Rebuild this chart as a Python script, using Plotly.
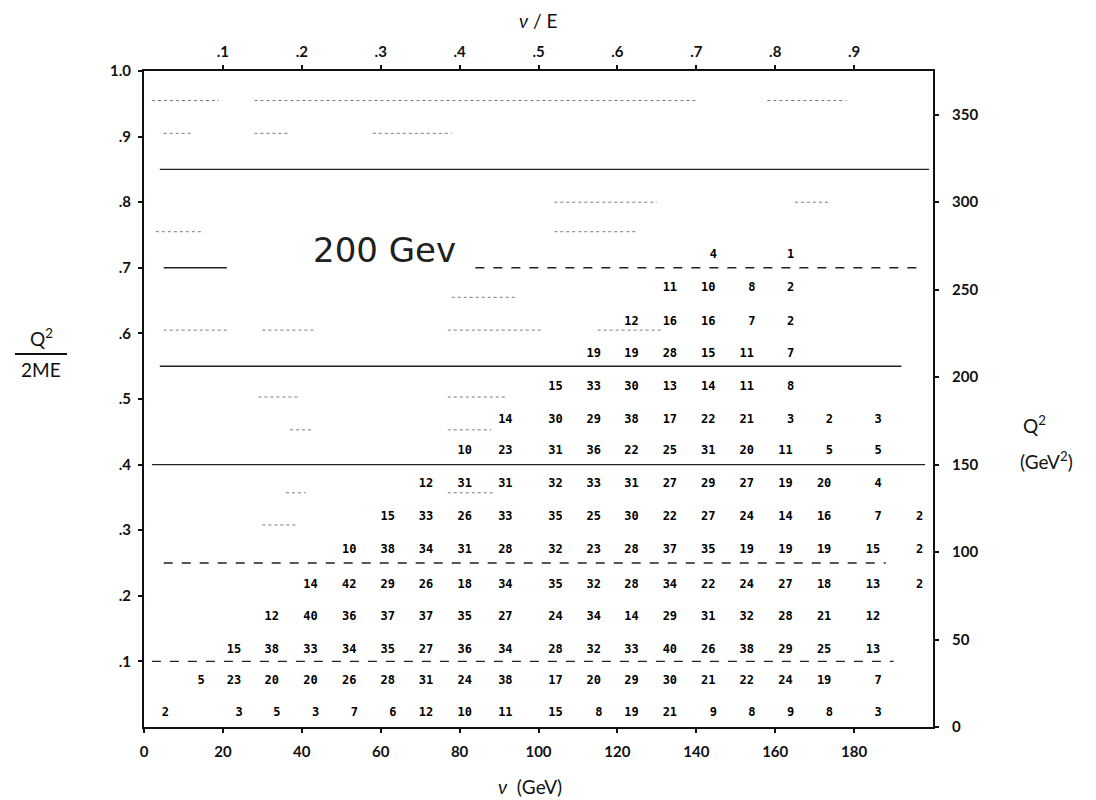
import plotly.graph_objects as go

# ---------------- data ----------------
E_BEAM = 200.0          # GeV, beam energy (top axis nu/E)
TWO_ME = 375.0          # GeV^2, 2ME (right axis Q^2)

# nu (GeV) of each typed count column
nu_cols = [4.1, 13.2, 22.8, 32.4, 42.2, 52.0, 61.8, 71.5, 81.3, 91.6,
           104.3, 114.0, 123.6, 133.3, 143.0, 152.8, 162.6, 172.4, 184.8, 195.3]

# Q^2/2ME of each typed count row (bottom to top)
y_rows = [0.022, 0.070, 0.118, 0.167, 0.217, 0.270, 0.320, 0.370,
          0.420, 0.468, 0.518, 0.569, 0.618, 0.669, 0.720]

N = None
counts = [
    [2, N, 3, 5, 3, 7, 6, 12, 10, 11, 15, 8, 19, 21, 9, 8, 9, 8, 3, N],
    [N, 5, 23, 20, 20, 26, 28, 31, 24, 38, 17, 20, 29, 30, 21, 22, 24, 19, 7, N],
    [N, N, 15, 38, 33, 34, 35, 27, 36, 34, 28, 32, 33, 40, 26, 38, 29, 25, 13, N],
    [N, N, N, 12, 40, 36, 37, 37, 35, 27, 24, 34, 14, 29, 31, 32, 28, 21, 12, N],
    [N, N, N, N, 14, 42, 29, 26, 18, 34, 35, 32, 28, 34, 22, 24, 27, 18, 13, 2],
    [N, N, N, N, N, 10, 38, 34, 31, 28, 32, 23, 28, 37, 35, 19, 19, 19, 15, 2],
    [N, N, N, N, N, N, 15, 33, 26, 33, 35, 25, 30, 22, 27, 24, 14, 16, 7, 2],
    [N, N, N, N, N, N, N, 12, 31, 31, 32, 33, 31, 27, 29, 27, 19, 20, 4, N],
    [N, N, N, N, N, N, N, N, 10, 23, 31, 36, 22, 25, 31, 20, 11, 5, 5, N],
    [N, N, N, N, N, N, N, N, N, 14, 30, 29, 38, 17, 22, 21, 3, 2, 3, N],
    [N, N, N, N, N, N, N, N, N, N, 15, 33, 30, 13, 14, 11, 8, N, N, N],
    [N, N, N, N, N, N, N, N, N, N, N, 19, 19, 28, 15, 11, 7, N, N, N],
    [N, N, N, N, N, N, N, N, N, N, N, N, 12, 16, 16, 7, 2, N, N, N],
    [N, N, N, N, N, N, N, N, N, N, N, N, N, 11, 10, 8, 2, N, N, N],
    [N, N, N, N, N, N, N, N, N, N, N, N, N, N, 4, N, 1, N, N, N],
]

# ruled lines of constant Q^2/2ME: level, nu start, nu end, dash
rule_levels = [0.10, 0.25, 0.40, 0.55, 0.70, 0.70, 0.85]
rule_starts = [2, 5, 2, 4, 5, 84, 4]
rule_ends = [190, 188, 198, 192, 21, 198, 199]
rule_dash = ["dash", "dash", "solid", "solid", "solid", "dash", "solid"]

# faint remnants of intermediate rulings: level, nu start, nu end
faint_levels = [0.955, 0.955, 0.955, 0.905, 0.905, 0.905, 0.80, 0.80, 0.755, 0.755,
                0.655, 0.605, 0.605, 0.605, 0.605, 0.503, 0.503, 0.453, 0.453,
                0.357, 0.357, 0.308]
faint_starts = [2, 28, 158, 5, 28, 58, 104, 165, 3, 104,
                78, 5, 30, 77, 115, 29, 77, 37, 77,
                36, 77, 30]
faint_ends = [19, 140, 178, 12, 37, 78, 130, 174, 15, 125,
              94, 21, 43, 101, 131, 39, 92, 43, 88,
              41, 89, 39]

x_ticks = [0, 20, 40, 60, 80, 100, 120, 140, 160, 180]
top_ticks = [0.1, 0.2, 0.3, 0.4, 0.5, 0.6, 0.7, 0.8, 0.9]
top_labels = [".1", ".2", ".3", ".4", ".5", ".6", ".7", ".8", ".9"]
left_ticks = [0.1, 0.2, 0.3, 0.4, 0.5, 0.6, 0.7, 0.8, 0.9, 1.0]
left_labels = [".1", ".2", ".3", ".4", ".5", ".6", ".7", ".8", ".9", "1.0"]
right_ticks = [0, 50, 100, 150, 200, 250, 300, 350]

# ---------------- figure ----------------
W, H = 1096, 800
L, R, T, B = 144, 933, 71, 727   # plot area in pixels


def px(xp):
    return (xp - L) / (R - L)


def py(yp):
    return (B - yp) / (B - T)


INK = "#111111"
fig = go.Figure()

for lev, a, b, d in zip(rule_levels, rule_starts, rule_ends, rule_dash):
    fig.add_trace(go.Scatter(x=[a, b], y=[lev, lev], mode="lines",
                             line=dict(color="#222222", width=1.4, dash=d),
                             hoverinfo="skip", showlegend=False))
for lev, a, b in zip(faint_levels, faint_starts, faint_ends):
    fig.add_trace(go.Scatter(x=[a, b], y=[lev, lev], mode="lines",
                             line=dict(color="#7a7a7a", width=1, dash="dot"),
                             hoverinfo="skip", showlegend=False))

xs, ys, ts = [], [], []
for yr, row in zip(y_rows, counts):
    for xc, v in zip(nu_cols, row):
        if v is None:
            continue
        xs.append(xc + (1.3 if v < 10 else 0.0))
        ys.append(yr)
        ts.append("<b>%d</b>" % v)
fig.add_trace(go.Scatter(x=xs, y=ys, text=ts, mode="text", cliponaxis=False,
                         textfont=dict(family="DejaVu Sans Mono", size=12, color="#000000"),
                         hoverinfo="skip", showlegend=False))

# invisible traces binding the secondary axes
fig.add_trace(go.Scatter(x=[0, 1], y=[None, None], xaxis="x2", yaxis="y",
                         mode="lines", showlegend=False, hoverinfo="skip"))
fig.add_trace(go.Scatter(x=[None, None], y=[0, TWO_ME], xaxis="x", yaxis="y2",
                         mode="lines", showlegend=False, hoverinfo="skip"))

tick_font = dict(family="Lato", size=15, color=INK, weight="bold")
axis_common = dict(showgrid=False, zeroline=False, showline=True, linecolor=INK,
                   linewidth=2, ticks="outside", ticklen=4, tickwidth=1.5,
                   tickcolor=INK, tickfont=tick_font)

fig.update_layout(
    width=W, height=H,
    margin=dict(l=L, r=W - R, t=T, b=H - B),
    paper_bgcolor="white", plot_bgcolor="white",
    showlegend=False,
    xaxis=dict(range=[0, 200], tickvals=x_ticks, ticktext=[str(v) for v in x_ticks],
               ticklabelstandoff=6, **axis_common),
    xaxis2=dict(range=[0, 200 / E_BEAM], overlaying="x", side="top", anchor="y",
                tickvals=top_ticks, ticktext=top_labels, ticklabelstandoff=2,
                **axis_common),
    yaxis=dict(range=[0, 1.0], tickvals=left_ticks, ticktext=left_labels,
               ticklabelstandoff=4, **axis_common),
    yaxis2=dict(range=[0, TWO_ME], overlaying="y", side="right", anchor="x",
                tickvals=right_ticks, ticktext=[str(v) for v in right_ticks],
                ticklabelstandoff=10, **axis_common),
)

title_font = dict(family="Lato", size=19, color=INK)
ann = [
    dict(x=px(538), y=py(20), text="<i>ν</i> / E", font=title_font),
    dict(x=px(530), y=py(786), text="<i>ν</i>  (GeV)", font=title_font),
    dict(x=px(41), y=py(337), text="Q<sup>2</sup>", font=title_font),
    dict(x=px(41), y=py(369), text="2ME", font=title_font),
    dict(x=px(1034), y=py(424), text="Q<sup>2</sup>", font=title_font),
    dict(x=px(1046), y=py(460), text="(GeV<sup>2</sup>)", font=title_font),
    dict(x=61, y=0.727, xref="x", yref="y", text="200 Gev",
         font=dict(family="DejaVu Sans", size=34, color="#202020")),
]
for a in ann:
    a.setdefault("xref", "paper")
    a.setdefault("yref", "paper")
    a["showarrow"] = False
    a["xanchor"] = "center"
    a["yanchor"] = "middle"
fig.update_layout(annotations=ann)

fig.add_shape(type="line", xref="paper", yref="paper",
              x0=px(15), x1=px(67), y0=py(354), y1=py(354),
              line=dict(color=INK, width=2))

fig.write_html("out.html")
